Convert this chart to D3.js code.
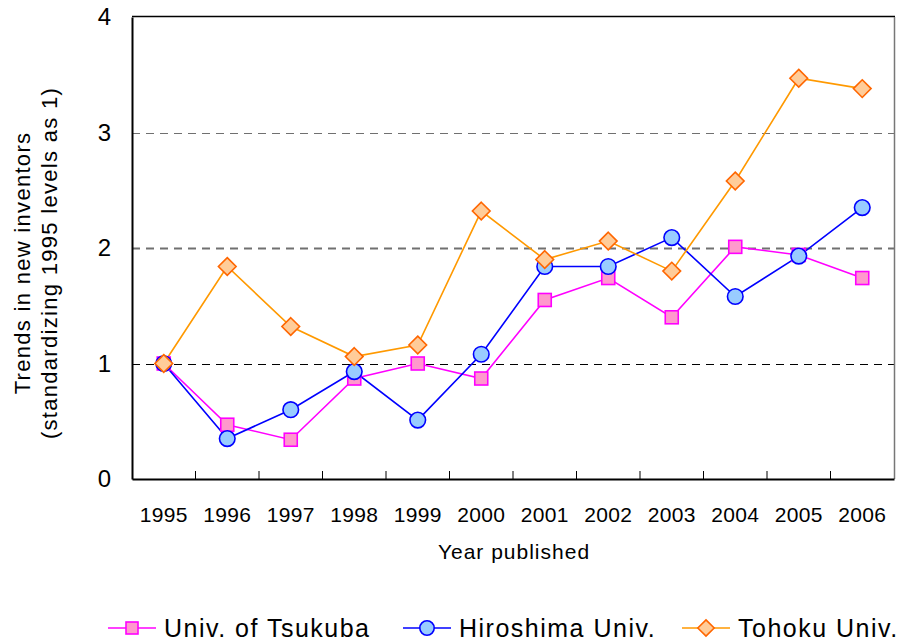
<!doctype html>
<html lang="en">
<head>
<meta charset="utf-8">
<title>New inventors trend</title>
<style>
html, body { margin: 0; padding: 0; background: #fff; }
svg { display: block; font-family: 'Liberation Sans', Arial, sans-serif; }
</style>
</head>
<body>
<div id="chart"></div>
<script src="https://cdnjs.cloudflare.com/ajax/libs/d3/7.8.5/d3.min.js"></script>
<script>
var years = ['1995', '1996', '1997', '1998', '1999', '2000', '2001', '2002', '2003', '2004', '2005', '2006'];
var yTicks = [0, 1, 2, 3, 4];
var tsukuba = [1.0, 0.47, 0.34, 0.87, 1.0, 0.87, 1.55, 1.74, 1.40, 2.01, 1.94, 1.74];
var hiroshima = [1.0, 0.35, 0.60, 0.93, 0.51, 1.08, 1.84, 1.84, 2.09, 1.58, 1.93, 2.35];
var tohoku = [1.0, 1.84, 1.32, 1.06, 1.16, 2.32, 1.90, 2.06, 1.80, 2.58, 3.47, 3.38];
var seriesNames = ['Univ. of Tsukuba', 'Hiroshima Univ.', 'Tohoku Univ.'];

(function (d3) {
	'use strict';

	var W = 910, H = 642;
	var m = { left: 132, right: 894, top: 17, bottom: 479 };

	var series = [
		{ name: seriesNames[0], values: tsukuba, line: '#ff00ff', fill: '#ff99cc', edge: '#ff00ff', shape: 'square' },
		{ name: seriesNames[1], values: hiroshima, line: '#0000ff', fill: '#99ccff', edge: '#0000ff', shape: 'circle' },
		{ name: seriesNames[2], values: tohoku, line: '#ff9900', fill: '#ffcc99', edge: '#ff6600', shape: 'diamond' }
	];

	var svg = d3.select('#chart').append('svg')
		.attr('width', W).attr('height', H);

	var x = d3.scaleBand().domain(years).range([m.left, m.right]);
	var y = d3.scaleLinear().domain([0, 4]).range([m.bottom, m.top]);

	/* grid */
	svg.append('g').selectAll('line')
		.data(yTicks.filter(function (t) { return t > 0 && t < 4; }))
		.enter().append('line')
		.attr('x1', m.left).attr('x2', m.right)
		.attr('y1', function (d) { return Math.round(y(d)) + 0.5; })
		.attr('y2', function (d) { return Math.round(y(d)) + 0.5; })
		.attr('stroke', function (d) { return d === 1 ? '#000' : '#707070'; })
		.attr('stroke-width', function (d) { return d === 2 ? 1.8 : 1; })
		.attr('stroke-dasharray', '8,6');

	/* frame */
	svg.append('line').attr('x1', m.left).attr('x2', m.right + 1)
		.attr('y1', m.top - 0.5).attr('y2', m.top - 0.5)
		.attr('stroke', '#000').attr('stroke-width', 1.5);
	svg.append('line').attr('x1', m.right + 0.5).attr('x2', m.right + 0.5)
		.attr('y1', m.top).attr('y2', m.bottom)
		.attr('stroke', '#777').attr('stroke-width', 1.5);

	/* y axis */
	var yAxis = svg.append('g')
		.attr('transform', 'translate(' + m.left + ',0)')
		.call(d3.axisLeft(y).tickValues(yTicks).tickFormat(d3.format('d')).tickSize(0).tickPadding(21));
	yAxis.select('.domain').attr('stroke', '#000').attr('stroke-width', 2);
	yAxis.selectAll('text').attr('font-size', 24).attr('fill', '#000');

	/* x axis with ticks between categories */
	var xAxis = svg.append('g')
		.attr('transform', 'translate(0,' + m.bottom + ')')
		.call(d3.axisBottom(x).tickSize(0).tickPadding(28));
	xAxis.select('.domain').attr('stroke', '#000').attr('stroke-width', 2);
	xAxis.selectAll('text').attr('font-size', 21).attr('fill', '#000')
		.attr('letter-spacing', 0.3);
	xAxis.selectAll('.sep')
		.data(years.slice(1))
		.enter().append('line')
		.attr('class', 'sep')
		.attr('x1', function (d) { return x(d); })
		.attr('x2', function (d) { return x(d); })
		.attr('y1', 0).attr('y2', -8)
		.attr('stroke', '#000').attr('stroke-width', 1);

	/* axis titles */
	svg.append('text')
		.attr('x', (m.left + m.right) / 2 + 1)
		.attr('y', 559)
		.attr('text-anchor', 'middle')
		.attr('font-size', 21)
		.attr('letter-spacing', 1)
		.text('Year published');

	var yt = svg.append('text')
		.attr('transform', 'translate(30,263) rotate(-90)')
		.attr('text-anchor', 'middle')
		.attr('font-size', 22)
		.attr('letter-spacing', 1.3);
	yt.append('tspan').attr('x', 0).attr('dy', 0).text('Trends in new inventors');
	yt.append('tspan').attr('x', 0).attr('dy', 27).text('(standardizing 1995 levels as 1)');

	/* markers */
	var drawMarker = function (g, s, size) {
		if (s.shape === 'circle') {
			g.append('circle').attr('r', size * 0.6);
		} else if (s.shape === 'square') {
			g.append('rect').attr('x', -size / 2).attr('y', -size / 2)
				.attr('width', size).attr('height', size);
		} else {
			var r = size * 0.68;
			g.append('path').attr('d', 'M0,' + (-r) + 'L' + r + ',0L0,' + r + 'L' + (-r) + ',0Z');
		}
		g.selectAll('*').attr('fill', s.fill).attr('stroke', s.edge).attr('stroke-width', 1.6);
	};

	var line = d3.line()
		.x(function (d, i) { return x(years[i]) + x.bandwidth() / 2; })
		.y(function (d) { return y(d); });

	series.forEach(function (s) {
		svg.append('path')
			.datum(s.values)
			.attr('d', line)
			.attr('fill', 'none')
			.attr('stroke', s.line)
			.attr('stroke-width', 1.6);
	});

	series.forEach(function (s) {
		svg.append('g').selectAll('g')
			.data(s.values)
			.enter().append('g')
			.attr('transform', function (d, i) {
				return 'translate(' + (x(years[i]) + x.bandwidth() / 2) + ',' + y(d) + ')';
			})
			.each(function () { drawMarker(d3.select(this), s, 13); });
	});

	/* legend */
	var legendX = [108, 403, 682];
	var legend = svg.append('g').attr('transform', 'translate(0,628)');
	series.forEach(function (s, i) {
		var g = legend.append('g').attr('transform', 'translate(' + legendX[i] + ',0)');
		g.append('line').attr('x1', 0).attr('x2', 48).attr('y1', 0).attr('y2', 0)
			.attr('stroke', s.line).attr('stroke-width', 1.6);
		var mk = g.append('g').attr('transform', 'translate(24,0)');
		drawMarker(mk, s, 12);
		g.append('text').attr('x', 56).attr('y', 0).attr('dy', '0.36em')
			.attr('font-size', 25)
			.attr('letter-spacing', 1.5)
			.text(s.name);
	});
})(window.d3);
</script>
</body>
</html>
